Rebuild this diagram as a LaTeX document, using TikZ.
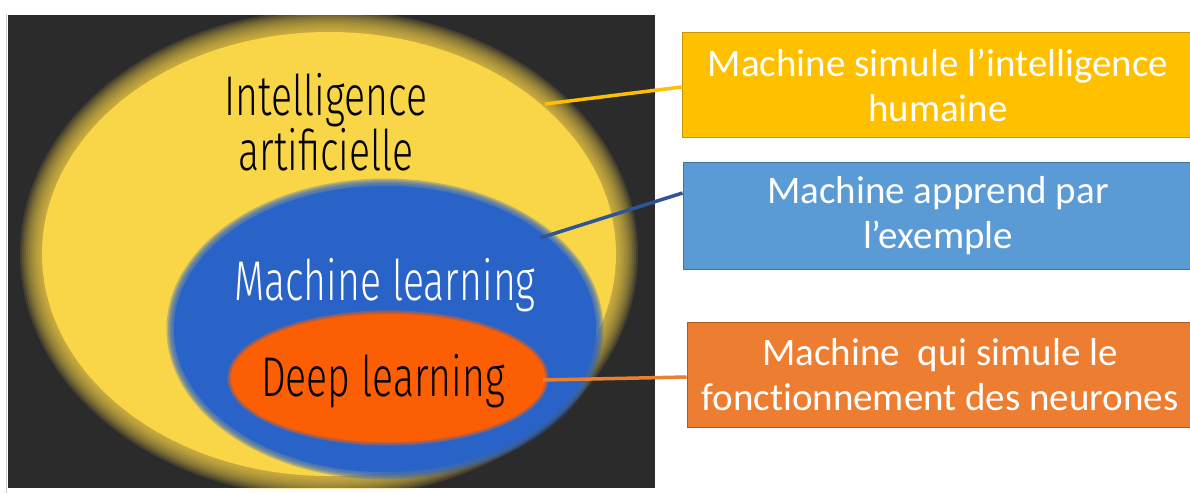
\documentclass[tikz,border=0pt]{standalone}
\usepackage{fontspec}
\setmainfont{Carlito}[Ligatures=NoCommon]
\newfontfamily\hand[FakeStretch=0.7]{Fira Sans Light}
\usetikzlibrary{shapes.geometric}
\definecolor{panelc}{HTML}{2B2B2B}
\definecolor{aiy}{HTML}{F9D548}
\definecolor{mlb}{HTML}{2A63C8}
\definecolor{dlo}{HTML}{FC5E03}
\definecolor{byel}{HTML}{FFC000}
\definecolor{byelb}{HTML}{C89600}
\definecolor{bblu}{HTML}{5B9BD5}
\definecolor{bblub}{HTML}{41719C}
\definecolor{bora}{HTML}{ED7D31}
\definecolor{borab}{HTML}{AE5A21}
\definecolor{lblu}{HTML}{2F5597}
\tikzset{
  infobox/.style={draw=#1, line width=1pt, minimum height=105pt, text=white,
    align=center, font=\fontsize{39}{45}\selectfont, inner sep=0pt},
  handtext/.style={font=\hand\fontsize{#1}{52}\selectfont, align=center, inner sep=0pt},
  link/.style={line width=3.5pt}
}
\begin{document}
\begin{tikzpicture}[x=1pt,y=-1pt]
\useasboundingbox (0,0) rectangle (1190,493);
\fill[white] (0,0) rectangle (1190,493);
% dark panel
\fill[panelc] (8,15) rectangle (655,488);
\draw[gray!40, line width=0.8pt] (6,14) -- (6,493);
% yellow ellipse with soft edge
\begin{scope}
\clip (8,15) rectangle (655,488);
\foreach \k in {0,...,11}{
  \fill[aiy, opacity=0.12] (329,254) ellipse ({287pt+(11-\k)*2pt} and {222pt+(11-\k)*2pt});
}
\fill[aiy] (329,254) ellipse (287pt and 222pt);
\end{scope}
% blue ellipse
\foreach \k in {0,...,5}{
  \fill[mlb, opacity=0.3] (385,329) ellipse ({211pt+(5-\k)*1.5pt} and {143pt+(5-\k)*1.5pt});
}
\fill[mlb] (385,329) ellipse (211pt and 143pt);
% orange ellipse
\foreach \k in {0,...,3}{
  \fill[dlo, opacity=0.35] (388,378) ellipse ({157pt+(3-\k)*1.2pt} and {64pt+(3-\k)*1.2pt});
}
\node[ellipse, fill=dlo, minimum width=314pt, minimum height=128pt, inner sep=0pt] (dl) at (388,378) {};
% ellipse labels
\node[handtext=56, text=black, anchor=base] (ai) at (326,170) {Intelligence\\artificielle};
\node[handtext=56, text=white, anchor=base] (ml) at (385,300) {Machine learning};
\node[handtext=56, text=black, anchor=base] (dlt) at (383,396) {Deep learning};
% boxes
\node[infobox=byelb, fill=byel, minimum width=512pt] (b1) at (938,85) {Machine simule l’intelligence\\humaine};
\node[infobox=bblub, fill=bblu, minimum width=510pt, minimum height=107pt] (b2) at (938,216) {Machine apprend par\\l’exemple};
\node[infobox=borab, fill=bora, minimum width=506pt] (b3) at (940,375) {Machine\ \ qui simule le\\fonctionnement des neurones};
% connectors
\coordinate (s1) at (545,104);
\coordinate (s2) at (540,238);
\coordinate (s3) at (543,380);
\draw[link, byel] (s1) -- (b1.west |- 0,87);
\draw[link, lblu] (s2) -- (b2.west |- 0,193);
\draw[link, bora] (s3) -- (b3.west |- 0,377);
\end{tikzpicture}
\end{document}
